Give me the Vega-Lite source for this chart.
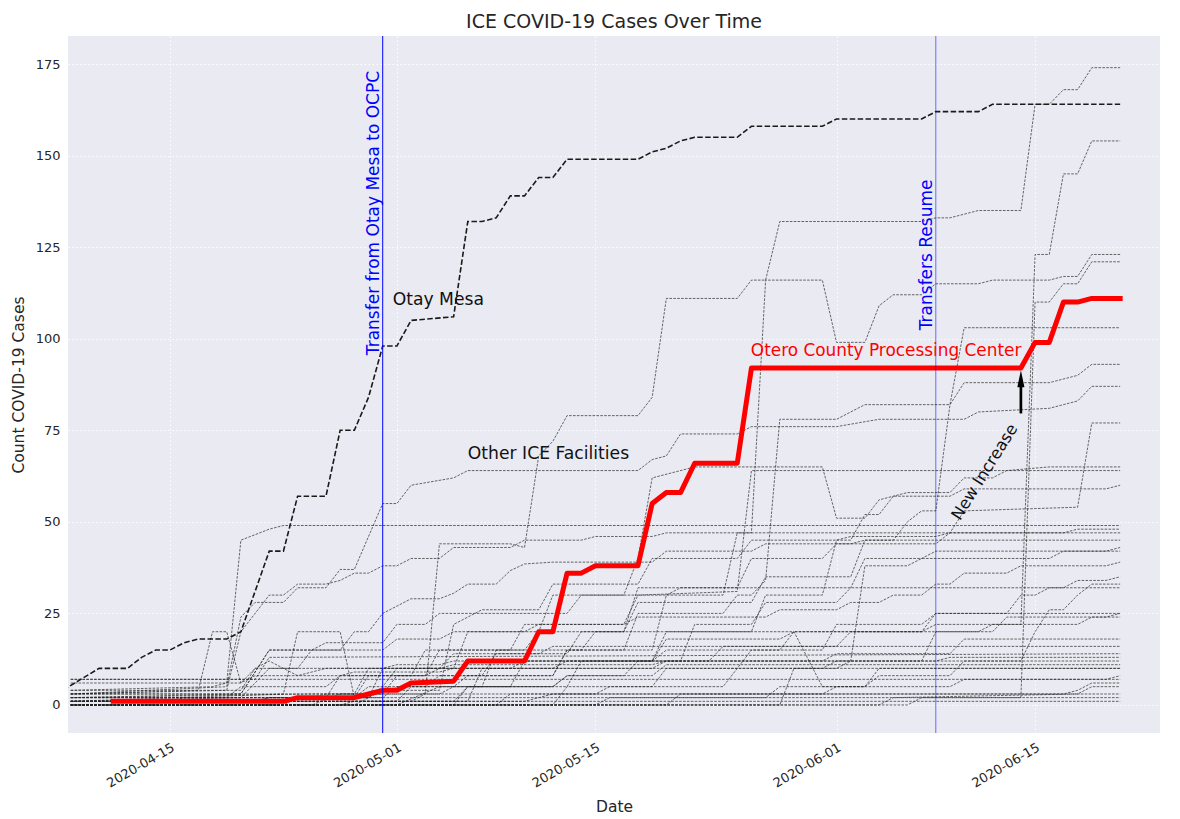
{
"$schema": "https://vega.github.io/schema/vega-lite/v6.json",
"width": 1092, "height": 697,
"autosize": {"type": "none"},
"padding": {"left": 68, "top": 36, "right": 20, "bottom": 86},
"background": "white",
"title": {"text": "ICE COVID-19 Cases Over Time", "fontSize": 19, "font": "DejaVu Sans", "fontWeight": "normal", "color": "#262626", "offset": 4, "anchor": "middle"},
"config": {"view": {"fill": "#EAEAF2", "stroke": null}},
"datasets": {
"other": [
{"f":"A","d":"2020-04-08","v":1},{"f":"A","d":"2020-05-02","v":1},{"f":"A","d":"2020-05-03","v":3},{"f":"A","d":"2020-05-04","v":44},{"f":"A","d":"2020-05-09","v":44},{"f":"A","d":"2020-05-10","v":43},{"f":"A","d":"2020-05-11","v":68},{"f":"A","d":"2020-05-12","v":72},{"f":"A","d":"2020-05-13","v":79},{"f":"A","d":"2020-05-18","v":79},{"f":"A","d":"2020-05-19","v":84},{"f":"A","d":"2020-05-20","v":111},{"f":"A","d":"2020-05-25","v":111},{"f":"A","d":"2020-05-26","v":116},{"f":"A","d":"2020-05-27","v":116},{"f":"A","d":"2020-05-28","v":132},{"f":"A","d":"2020-06-07","v":132},{"f":"A","d":"2020-06-08","v":133},{"f":"A","d":"2020-06-09","v":133},{"f":"A","d":"2020-06-11","v":135},{"f":"A","d":"2020-06-14","v":135},{"f":"A","d":"2020-06-15","v":164},{"f":"A","d":"2020-06-16","v":164},{"f":"A","d":"2020-06-17","v":168},{"f":"A","d":"2020-06-18","v":168},{"f":"A","d":"2020-06-19","v":174},{"f":"A","d":"2020-06-21","v":174},
{"f":"I","d":"2020-04-08","v":0},{"f":"I","d":"2020-04-23","v":0},{"f":"I","d":"2020-04-24","v":2},{"f":"I","d":"2020-04-30","v":2},{"f":"I","d":"2020-05-01","v":5},{"f":"I","d":"2020-05-05","v":5},{"f":"I","d":"2020-05-06","v":8},{"f":"I","d":"2020-05-12","v":8},{"f":"I","d":"2020-05-13","v":15},{"f":"I","d":"2020-05-19","v":15},{"f":"I","d":"2020-05-20","v":30},{"f":"I","d":"2020-05-24","v":30},{"f":"I","d":"2020-05-25","v":47},{"f":"I","d":"2020-05-26","v":47},{"f":"I","d":"2020-05-27","v":116},{"f":"I","d":"2020-05-31","v":116},{"f":"I","d":"2020-06-01","v":99},{"f":"I","d":"2020-06-03","v":99},{"f":"I","d":"2020-06-04","v":109},{"f":"I","d":"2020-06-05","v":112},{"f":"I","d":"2020-06-07","v":112},{"f":"I","d":"2020-06-08","v":115},{"f":"I","d":"2020-06-11","v":115},{"f":"I","d":"2020-06-12","v":116},{"f":"I","d":"2020-06-16","v":116},{"f":"I","d":"2020-06-17","v":117},{"f":"I","d":"2020-06-18","v":117},{"f":"I","d":"2020-06-19","v":123},{"f":"I","d":"2020-06-21","v":123},
{"f":"D","d":"2020-04-08","v":0},{"f":"D","d":"2020-04-25","v":0},{"f":"D","d":"2020-04-27","v":3},{"f":"D","d":"2020-05-04","v":3},{"f":"D","d":"2020-05-05","v":5},{"f":"D","d":"2020-05-09","v":5},{"f":"D","d":"2020-05-10","v":12},{"f":"D","d":"2020-05-19","v":12},{"f":"D","d":"2020-05-20","v":18},{"f":"D","d":"2020-05-28","v":18},{"f":"D","d":"2020-05-29","v":20},{"f":"D","d":"2020-06-07","v":20},{"f":"D","d":"2020-06-08","v":22},{"f":"D","d":"2020-06-14","v":22},{"f":"D","d":"2020-06-15","v":123},{"f":"D","d":"2020-06-16","v":123},{"f":"D","d":"2020-06-17","v":145},{"f":"D","d":"2020-06-18","v":145},{"f":"D","d":"2020-06-19","v":154},{"f":"D","d":"2020-06-21","v":154},
{"f":"E","d":"2020-04-08","v":0},{"f":"E","d":"2020-06-06","v":0},{"f":"E","d":"2020-06-07","v":2},{"f":"E","d":"2020-06-14","v":2},{"f":"E","d":"2020-06-15","v":110},{"f":"E","d":"2020-06-16","v":110},{"f":"E","d":"2020-06-17","v":115},{"f":"E","d":"2020-06-18","v":115},{"f":"E","d":"2020-06-19","v":121},{"f":"E","d":"2020-06-21","v":121},
{"f":"J","d":"2020-04-08","v":1},{"f":"J","d":"2020-04-23","v":1},{"f":"J","d":"2020-04-24","v":2},{"f":"J","d":"2020-04-28","v":2},{"f":"J","d":"2020-04-29","v":8},{"f":"J","d":"2020-05-03","v":8},{"f":"J","d":"2020-05-04","v":15},{"f":"J","d":"2020-05-10","v":15},{"f":"J","d":"2020-05-11","v":20},{"f":"J","d":"2020-05-17","v":20},{"f":"J","d":"2020-05-18","v":28},{"f":"J","d":"2020-05-26","v":28},{"f":"J","d":"2020-05-27","v":35},{"f":"J","d":"2020-06-02","v":35},{"f":"J","d":"2020-06-03","v":45},{"f":"J","d":"2020-06-05","v":45},{"f":"J","d":"2020-06-06","v":50},{"f":"J","d":"2020-06-07","v":53},{"f":"J","d":"2020-06-08","v":53},{"f":"J","d":"2020-06-09","v":82},{"f":"J","d":"2020-06-10","v":103},{"f":"J","d":"2020-06-21","v":103},
{"f":"F","d":"2020-04-12","v":1},{"f":"F","d":"2020-04-21","v":1},{"f":"F","d":"2020-04-22","v":2},{"f":"F","d":"2020-04-28","v":2},{"f":"F","d":"2020-04-29","v":5},{"f":"F","d":"2020-05-03","v":5},{"f":"F","d":"2020-05-04","v":8},{"f":"F","d":"2020-05-12","v":8},{"f":"F","d":"2020-05-13","v":15},{"f":"F","d":"2020-05-17","v":15},{"f":"F","d":"2020-05-18","v":25},{"f":"F","d":"2020-05-24","v":25},{"f":"F","d":"2020-05-25","v":30},{"f":"F","d":"2020-05-26","v":30},{"f":"F","d":"2020-05-27","v":34},{"f":"F","d":"2020-05-28","v":78},{"f":"F","d":"2020-06-01","v":78},{"f":"F","d":"2020-06-03","v":82},{"f":"F","d":"2020-06-09","v":82},{"f":"F","d":"2020-06-10","v":88},{"f":"F","d":"2020-06-16","v":88},{"f":"F","d":"2020-06-18","v":90},{"f":"F","d":"2020-06-19","v":93},{"f":"F","d":"2020-06-21","v":93},
{"f":"L","d":"2020-04-08","v":3},{"f":"L","d":"2020-04-19","v":5},{"f":"L","d":"2020-04-20","v":24},{"f":"L","d":"2020-04-21","v":28},{"f":"L","d":"2020-04-23","v":28},{"f":"L","d":"2020-04-24","v":32},{"f":"L","d":"2020-04-26","v":32},{"f":"L","d":"2020-04-27","v":37},{"f":"L","d":"2020-04-28","v":37},{"f":"L","d":"2020-04-30","v":55},{"f":"L","d":"2020-05-01","v":55},{"f":"L","d":"2020-05-02","v":60},{"f":"L","d":"2020-05-05","v":62},{"f":"L","d":"2020-05-06","v":64},{"f":"L","d":"2020-05-18","v":64},{"f":"L","d":"2020-05-19","v":67},{"f":"L","d":"2020-05-20","v":68},{"f":"L","d":"2020-05-21","v":74},{"f":"L","d":"2020-05-25","v":74},{"f":"L","d":"2020-05-26","v":76},{"f":"L","d":"2020-06-01","v":76},{"f":"L","d":"2020-06-04","v":78},{"f":"L","d":"2020-06-10","v":78},{"f":"L","d":"2020-06-11","v":80},{"f":"L","d":"2020-06-16","v":81},{"f":"L","d":"2020-06-18","v":83},{"f":"L","d":"2020-06-19","v":87},{"f":"L","d":"2020-06-21","v":87},
{"f":"G","d":"2020-04-08","v":2},{"f":"G","d":"2020-04-20","v":3},{"f":"G","d":"2020-04-22","v":15},{"f":"G","d":"2020-04-25","v":15},{"f":"G","d":"2020-04-26","v":17},{"f":"G","d":"2020-04-30","v":17},{"f":"G","d":"2020-05-01","v":22},{"f":"G","d":"2020-05-03","v":22},{"f":"G","d":"2020-05-04","v":25},{"f":"G","d":"2020-05-13","v":25},{"f":"G","d":"2020-05-14","v":30},{"f":"G","d":"2020-05-20","v":30},{"f":"G","d":"2020-05-21","v":32},{"f":"G","d":"2020-05-25","v":32},{"f":"G","d":"2020-05-26","v":40},{"f":"G","d":"2020-05-31","v":40},{"f":"G","d":"2020-06-01","v":44},{"f":"G","d":"2020-06-08","v":44},{"f":"G","d":"2020-06-09","v":47},{"f":"G","d":"2020-06-10","v":53},{"f":"G","d":"2020-06-18","v":54},{"f":"G","d":"2020-06-19","v":77},{"f":"G","d":"2020-06-21","v":77},
{"f":"H1","d":"2020-04-08","v":2},{"f":"H1","d":"2020-04-25","v":3},{"f":"H1","d":"2020-04-28","v":3},{"f":"H1","d":"2020-04-29","v":10},{"f":"H1","d":"2020-05-05","v":10},{"f":"H1","d":"2020-05-06","v":20},{"f":"H1","d":"2020-05-11","v":20},{"f":"H1","d":"2020-05-12","v":30},{"f":"H1","d":"2020-05-17","v":30},{"f":"H1","d":"2020-05-18","v":40},{"f":"H1","d":"2020-05-19","v":62},{"f":"H1","d":"2020-05-22","v":65},{"f":"H1","d":"2020-05-31","v":65},{"f":"H1","d":"2020-06-01","v":51},{"f":"H1","d":"2020-06-03","v":51},{"f":"H1","d":"2020-06-04","v":56},{"f":"H1","d":"2020-06-06","v":58},{"f":"H1","d":"2020-06-09","v":58},{"f":"H1","d":"2020-06-10","v":62},{"f":"H1","d":"2020-06-12","v":62},{"f":"H1","d":"2020-06-13","v":64},{"f":"H1","d":"2020-06-16","v":65},{"f":"H1","d":"2020-06-21","v":65},
{"f":"H2","d":"2020-04-08","v":1},{"f":"H2","d":"2020-04-21","v":1},{"f":"H2","d":"2020-04-22","v":2},{"f":"H2","d":"2020-04-26","v":2},{"f":"H2","d":"2020-04-27","v":8},{"f":"H2","d":"2020-05-02","v":8},{"f":"H2","d":"2020-05-03","v":15},{"f":"H2","d":"2020-05-09","v":15},{"f":"H2","d":"2020-05-10","v":22},{"f":"H2","d":"2020-05-17","v":22},{"f":"H2","d":"2020-05-18","v":30},{"f":"H2","d":"2020-05-25","v":31},{"f":"H2","d":"2020-05-26","v":64},{"f":"H2","d":"2020-06-21","v":64},
{"f":"H3","d":"2020-04-08","v":0},{"f":"H3","d":"2020-04-27","v":0},{"f":"H3","d":"2020-04-28","v":1},{"f":"H3","d":"2020-05-05","v":1},{"f":"H3","d":"2020-05-06","v":5},{"f":"H3","d":"2020-05-13","v":5},{"f":"H3","d":"2020-05-14","v":12},{"f":"H3","d":"2020-05-19","v":12},{"f":"H3","d":"2020-05-20","v":20},{"f":"H3","d":"2020-05-26","v":20},{"f":"H3","d":"2020-05-27","v":30},{"f":"H3","d":"2020-05-31","v":30},{"f":"H3","d":"2020-06-01","v":45},{"f":"H3","d":"2020-06-02","v":45},{"f":"H3","d":"2020-06-03","v":52},{"f":"H3","d":"2020-06-04","v":52},{"f":"H3","d":"2020-06-05","v":57},{"f":"H3","d":"2020-06-09","v":57},{"f":"H3","d":"2020-06-10","v":59},{"f":"H3","d":"2020-06-20","v":59},{"f":"H3","d":"2020-06-21","v":60},
{"f":"B","d":"2020-04-08","v":4},{"f":"B","d":"2020-04-18","v":5},{"f":"B","d":"2020-04-19","v":6},{"f":"B","d":"2020-04-20","v":45},{"f":"B","d":"2020-04-22","v":48},{"f":"B","d":"2020-04-23","v":49},{"f":"B","d":"2020-06-21","v":49},
{"f":"N1","d":"2020-04-08","v":3},{"f":"N1","d":"2020-04-19","v":4},{"f":"N1","d":"2020-04-20","v":20},{"f":"N1","d":"2020-04-22","v":30},{"f":"N1","d":"2020-04-23","v":30},{"f":"N1","d":"2020-04-24","v":33},{"f":"N1","d":"2020-04-26","v":33},{"f":"N1","d":"2020-04-27","v":34},{"f":"N1","d":"2020-04-28","v":36},{"f":"N1","d":"2020-04-29","v":36},{"f":"N1","d":"2020-04-30","v":38},{"f":"N1","d":"2020-05-01","v":38},{"f":"N1","d":"2020-05-02","v":40},{"f":"N1","d":"2020-05-04","v":40},{"f":"N1","d":"2020-05-05","v":43},{"f":"N1","d":"2020-05-09","v":43},{"f":"N1","d":"2020-05-10","v":45},{"f":"N1","d":"2020-05-14","v":45},{"f":"N1","d":"2020-05-15","v":46},{"f":"N1","d":"2020-05-19","v":46},{"f":"N1","d":"2020-05-20","v":47},{"f":"N1","d":"2020-06-21","v":47},
{"f":"K1","d":"2020-04-08","v":0},{"f":"K1","d":"2020-04-28","v":0},{"f":"K1","d":"2020-04-30","v":4},{"f":"K1","d":"2020-05-04","v":4},{"f":"K1","d":"2020-05-05","v":22},{"f":"K1","d":"2020-05-07","v":26},{"f":"K1","d":"2020-05-11","v":26},{"f":"K1","d":"2020-05-12","v":33},{"f":"K1","d":"2020-05-18","v":33},{"f":"K1","d":"2020-05-19","v":40},{"f":"K1","d":"2020-05-25","v":40},{"f":"K1","d":"2020-05-26","v":45},{"f":"K1","d":"2020-06-01","v":45},{"f":"K1","d":"2020-06-02","v":46},{"f":"K1","d":"2020-06-08","v":46},{"f":"K1","d":"2020-06-09","v":47},{"f":"K1","d":"2020-06-17","v":47},{"f":"K1","d":"2020-06-18","v":48},{"f":"K1","d":"2020-06-21","v":48},
{"f":"N2","d":"2020-04-08","v":1},{"f":"N2","d":"2020-04-20","v":2},{"f":"N2","d":"2020-04-22","v":10},{"f":"N2","d":"2020-04-24","v":10},{"f":"N2","d":"2020-04-25","v":15},{"f":"N2","d":"2020-04-27","v":15},{"f":"N2","d":"2020-04-28","v":20},{"f":"N2","d":"2020-04-29","v":20},{"f":"N2","d":"2020-04-30","v":25},{"f":"N2","d":"2020-05-01","v":27},{"f":"N2","d":"2020-05-02","v":29},{"f":"N2","d":"2020-05-04","v":29},{"f":"N2","d":"2020-05-05","v":30.5},{"f":"N2","d":"2020-05-06","v":33},{"f":"N2","d":"2020-05-08","v":33},{"f":"N2","d":"2020-05-09","v":36.7},{"f":"N2","d":"2020-05-10","v":38.5},{"f":"N2","d":"2020-05-12","v":39},{"f":"N2","d":"2020-05-19","v":39},{"f":"N2","d":"2020-05-20","v":42},{"f":"N2","d":"2020-05-26","v":42},{"f":"N2","d":"2020-05-27","v":44},{"f":"N2","d":"2020-06-02","v":44},{"f":"N2","d":"2020-06-03","v":45},{"f":"N2","d":"2020-06-21","v":45},
{"f":"K4","d":"2020-04-08","v":1},{"f":"K4","d":"2020-05-01","v":1},{"f":"K4","d":"2020-05-02","v":5},{"f":"K4","d":"2020-05-12","v":5},{"f":"K4","d":"2020-05-13","v":8},{"f":"K4","d":"2020-05-17","v":8},{"f":"K4","d":"2020-05-18","v":12},{"f":"K4","d":"2020-05-21","v":12},{"f":"K4","d":"2020-05-22","v":22},{"f":"K4","d":"2020-05-26","v":22},{"f":"K4","d":"2020-05-27","v":28},{"f":"K4","d":"2020-06-01","v":28},{"f":"K4","d":"2020-06-02","v":32},{"f":"K4","d":"2020-06-03","v":40},{"f":"K4","d":"2020-06-07","v":40},{"f":"K4","d":"2020-06-08","v":42},{"f":"K4","d":"2020-06-20","v":42},{"f":"K4","d":"2020-06-21","v":43},
{"f":"K5","d":"2020-04-08","v":0},{"f":"K5","d":"2020-05-08","v":0},{"f":"K5","d":"2020-05-09","v":3},{"f":"K5","d":"2020-05-15","v":3},{"f":"K5","d":"2020-05-16","v":5},{"f":"K5","d":"2020-05-24","v":5},{"f":"K5","d":"2020-05-25","v":10},{"f":"K5","d":"2020-05-31","v":10},{"f":"K5","d":"2020-06-01","v":12},{"f":"K5","d":"2020-06-02","v":12},{"f":"K5","d":"2020-06-03","v":38},{"f":"K5","d":"2020-06-06","v":38},{"f":"K5","d":"2020-06-07","v":40},{"f":"K5","d":"2020-06-16","v":40},{"f":"K5","d":"2020-06-17","v":42},{"f":"K5","d":"2020-06-21","v":42},
{"f":"K6","d":"2020-04-08","v":3},{"f":"K6","d":"2020-04-20","v":3},{"f":"K6","d":"2020-04-22","v":15},{"f":"K6","d":"2020-04-30","v":15},{"f":"K6","d":"2020-05-01","v":18},{"f":"K6","d":"2020-05-04","v":18},{"f":"K6","d":"2020-05-05","v":20},{"f":"K6","d":"2020-05-10","v":20},{"f":"K6","d":"2020-05-11","v":22},{"f":"K6","d":"2020-05-17","v":22},{"f":"K6","d":"2020-05-18","v":24},{"f":"K6","d":"2020-05-27","v":24},{"f":"K6","d":"2020-05-28","v":26},{"f":"K6","d":"2020-06-01","v":26},{"f":"K6","d":"2020-06-02","v":28},{"f":"K6","d":"2020-06-04","v":28},{"f":"K6","d":"2020-06-05","v":30},{"f":"K6","d":"2020-06-07","v":30},{"f":"K6","d":"2020-06-08","v":33},{"f":"K6","d":"2020-06-09","v":33},{"f":"K6","d":"2020-06-10","v":36},{"f":"K6","d":"2020-06-13","v":36},{"f":"K6","d":"2020-06-14","v":38},{"f":"K6","d":"2020-06-20","v":38},{"f":"K6","d":"2020-06-21","v":39},
{"f":"K7","d":"2020-04-08","v":1},{"f":"K7","d":"2020-05-06","v":1},{"f":"K7","d":"2020-05-07","v":10},{"f":"K7","d":"2020-05-09","v":10},{"f":"K7","d":"2020-05-10","v":12},{"f":"K7","d":"2020-05-19","v":12},{"f":"K7","d":"2020-05-20","v":15},{"f":"K7","d":"2020-05-28","v":15},{"f":"K7","d":"2020-05-29","v":20},{"f":"K7","d":"2020-06-07","v":20},{"f":"K7","d":"2020-06-08","v":25},{"f":"K7","d":"2020-06-13","v":25},{"f":"K7","d":"2020-06-14","v":30},{"f":"K7","d":"2020-06-15","v":30},{"f":"K7","d":"2020-06-16","v":32},{"f":"K7","d":"2020-06-17","v":32},{"f":"K7","d":"2020-06-18","v":34},{"f":"K7","d":"2020-06-20","v":34},{"f":"K7","d":"2020-06-21","v":35},
{"f":"K8","d":"2020-04-08","v":0},{"f":"K8","d":"2020-05-15","v":0},{"f":"K8","d":"2020-05-16","v":2},{"f":"K8","d":"2020-05-27","v":2},{"f":"K8","d":"2020-05-28","v":5},{"f":"K8","d":"2020-06-03","v":5},{"f":"K8","d":"2020-06-04","v":8},{"f":"K8","d":"2020-06-09","v":8},{"f":"K8","d":"2020-06-10","v":12},{"f":"K8","d":"2020-06-14","v":12},{"f":"K8","d":"2020-06-15","v":20},{"f":"K8","d":"2020-06-16","v":26},{"f":"K8","d":"2020-06-17","v":26},{"f":"K8","d":"2020-06-18","v":30},{"f":"K8","d":"2020-06-19","v":33},{"f":"K8","d":"2020-06-21","v":33},
{"f":"K9","d":"2020-04-08","v":2},{"f":"K9","d":"2020-04-25","v":2},{"f":"K9","d":"2020-04-26","v":3},{"f":"K9","d":"2020-04-30","v":3},{"f":"K9","d":"2020-05-01","v":8},{"f":"K9","d":"2020-05-07","v":8},{"f":"K9","d":"2020-05-08","v":14},{"f":"K9","d":"2020-05-13","v":14},{"f":"K9","d":"2020-05-14","v":20},{"f":"K9","d":"2020-05-17","v":20},{"f":"K9","d":"2020-05-18","v":32},{"f":"K9","d":"2020-06-21","v":32},
{"f":"K10","d":"2020-04-08","v":0},{"f":"K10","d":"2020-05-12","v":0},{"f":"K10","d":"2020-05-13","v":5},{"f":"K10","d":"2020-05-19","v":5},{"f":"K10","d":"2020-05-20","v":10},{"f":"K10","d":"2020-05-25","v":10},{"f":"K10","d":"2020-05-26","v":15},{"f":"K10","d":"2020-05-31","v":15},{"f":"K10","d":"2020-06-01","v":22},{"f":"K10","d":"2020-06-07","v":22},{"f":"K10","d":"2020-06-08","v":25},{"f":"K10","d":"2020-06-21","v":25},
{"f":"K11","d":"2020-04-08","v":1},{"f":"K11","d":"2020-04-15","v":1},{"f":"K11","d":"2020-04-16","v":2},{"f":"K11","d":"2020-04-19","v":2},{"f":"K11","d":"2020-04-20","v":5},{"f":"K11","d":"2020-04-26","v":5},{"f":"K11","d":"2020-04-27","v":8},{"f":"K11","d":"2020-05-03","v":8},{"f":"K11","d":"2020-05-04","v":10},{"f":"K11","d":"2020-05-12","v":10},{"f":"K11","d":"2020-05-13","v":12},{"f":"K11","d":"2020-05-23","v":12},{"f":"K11","d":"2020-05-24","v":16},{"f":"K11","d":"2020-06-01","v":16},{"f":"K11","d":"2020-06-02","v":20},{"f":"K11","d":"2020-06-11","v":20},{"f":"K11","d":"2020-06-12","v":22},{"f":"K11","d":"2020-06-18","v":22},{"f":"K11","d":"2020-06-19","v":24},{"f":"K11","d":"2020-06-21","v":24},
{"f":"C","d":"2020-04-08","v":3},{"f":"C","d":"2020-04-17","v":4},{"f":"C","d":"2020-04-18","v":20},{"f":"C","d":"2020-04-19","v":20},{"f":"C","d":"2020-04-20","v":6},{"f":"C","d":"2020-04-21","v":8},{"f":"C","d":"2020-04-27","v":8},{"f":"C","d":"2020-04-28","v":9},{"f":"C","d":"2020-05-04","v":9},{"f":"C","d":"2020-05-05","v":10},{"f":"C","d":"2020-05-19","v":10},{"f":"C","d":"2020-05-20","v":12},{"f":"C","d":"2020-05-31","v":12},{"f":"C","d":"2020-06-01","v":14},{"f":"C","d":"2020-06-09","v":14},{"f":"C","d":"2020-06-10","v":18},{"f":"C","d":"2020-06-21","v":18},
{"f":"M","d":"2020-04-08","v":1},{"f":"M","d":"2020-04-23","v":3},{"f":"M","d":"2020-04-24","v":20},{"f":"M","d":"2020-04-27","v":20},{"f":"M","d":"2020-04-28","v":2},{"f":"M","d":"2020-04-29","v":2},{"f":"M","d":"2020-04-30","v":5},{"f":"M","d":"2020-05-01","v":10},{"f":"M","d":"2020-05-04","v":10},{"f":"M","d":"2020-05-05","v":14},{"f":"M","d":"2020-05-11","v":14},{"f":"M","d":"2020-05-12","v":16},{"f":"M","d":"2020-06-21","v":16},
{"f":"K14","d":"2020-04-08","v":7},{"f":"K14","d":"2020-04-21","v":7},{"f":"K14","d":"2020-04-22","v":13},{"f":"K14","d":"2020-06-21","v":14},
{"f":"K15","d":"2020-04-08","v":6},{"f":"K15","d":"2020-04-20","v":6},{"f":"K15","d":"2020-04-21","v":10},{"f":"K15","d":"2020-04-30","v":10},{"f":"K15","d":"2020-05-01","v":11},{"f":"K15","d":"2020-05-04","v":11},{"f":"K15","d":"2020-05-05","v":12},{"f":"K15","d":"2020-06-08","v":12},{"f":"K15","d":"2020-06-09","v":13},{"f":"K15","d":"2020-06-21","v":13},
{"f":"K16","d":"2020-04-08","v":0},{"f":"K16","d":"2020-05-05","v":0},{"f":"K16","d":"2020-05-06","v":5},{"f":"K16","d":"2020-05-12","v":5},{"f":"K16","d":"2020-05-13","v":8},{"f":"K16","d":"2020-05-19","v":8},{"f":"K16","d":"2020-05-20","v":11},{"f":"K16","d":"2020-06-21","v":11},
{"f":"K17","d":"2020-04-08","v":2},{"f":"K17","d":"2020-04-29","v":2},{"f":"K17","d":"2020-04-30","v":10},{"f":"K17","d":"2020-06-21","v":10},
{"f":"K18","d":"2020-04-08","v":0},{"f":"K18","d":"2020-05-20","v":0},{"f":"K18","d":"2020-05-21","v":3},{"f":"K18","d":"2020-05-31","v":3},{"f":"K18","d":"2020-06-01","v":5},{"f":"K18","d":"2020-06-09","v":5},{"f":"K18","d":"2020-06-10","v":7},{"f":"K18","d":"2020-06-20","v":7},{"f":"K18","d":"2020-06-21","v":8},
{"f":"K19","d":"2020-04-08","v":1},{"f":"K19","d":"2020-05-10","v":1},{"f":"K19","d":"2020-05-12","v":3},{"f":"K19","d":"2020-06-17","v":3},{"f":"K19","d":"2020-06-18","v":4},{"f":"K19","d":"2020-06-19","v":6},{"f":"K19","d":"2020-06-21","v":6},
{"f":"K20","d":"2020-04-08","v":0},{"f":"K20","d":"2020-06-04","v":0},{"f":"K20","d":"2020-06-05","v":2},{"f":"K20","d":"2020-06-18","v":3},{"f":"K20","d":"2020-06-19","v":5},{"f":"K20","d":"2020-06-21","v":5},
{"f":"K21","d":"2020-04-08","v":3},{"f":"K21","d":"2020-06-21","v":3},
{"f":"K22","d":"2020-04-08","v":2},{"f":"K22","d":"2020-06-21","v":2},
{"f":"K23","d":"2020-04-08","v":1},{"f":"K23","d":"2020-06-21","v":1},
{"f":"K25","d":"2020-04-08","v":7},{"f":"K25","d":"2020-06-21","v":7},
{"f":"P1","d":"2020-04-08","v":4},{"f":"P1","d":"2020-04-20","v":4},{"f":"P1","d":"2020-04-21","v":10},{"f":"P1","d":"2020-04-22","v":12},{"f":"P1","d":"2020-04-24","v":8},{"f":"P1","d":"2020-04-26","v":10},{"f":"P1","d":"2020-05-04","v":10},{"f":"P1","d":"2020-05-05","v":11},{"f":"P1","d":"2020-05-19","v":11},{"f":"P1","d":"2020-05-20","v":12},{"f":"P1","d":"2020-06-21","v":12},
{"f":"Q1","d":"2020-04-08","v":0},{"f":"Q1","d":"2020-05-01","v":0},{"f":"Q1","d":"2020-05-04","v":5},{"f":"Q1","d":"2020-05-07","v":5},{"f":"Q1","d":"2020-05-08","v":15},{"f":"Q1","d":"2020-05-14","v":15},{"f":"Q1","d":"2020-05-15","v":20},{"f":"Q1","d":"2020-05-29","v":20},{"f":"Q1","d":"2020-05-31","v":5},{"f":"Q1","d":"2020-06-03","v":5},{"f":"Q1","d":"2020-06-04","v":10},{"f":"Q1","d":"2020-06-21","v":10},
{"f":"S1","d":"2020-04-08","v":0},{"f":"S1","d":"2020-05-28","v":0},{"f":"S1","d":"2020-05-29","v":10},{"f":"S1","d":"2020-06-01","v":10},{"f":"S1","d":"2020-06-02","v":12},{"f":"S1","d":"2020-06-07","v":12},{"f":"S1","d":"2020-06-08","v":20},{"f":"S1","d":"2020-06-12","v":20},{"f":"S1","d":"2020-06-13","v":24},{"f":"S1","d":"2020-06-20","v":24},{"f":"S1","d":"2020-06-21","v":25}
],
"otay": [
{"d":"2020-04-07","v":3},{"d":"2020-04-10","v":10},{"d":"2020-04-12","v":10},{"d":"2020-04-13","v":13},{"d":"2020-04-14","v":15},{"d":"2020-04-15","v":15},{"d":"2020-04-16","v":17},{"d":"2020-04-17","v":18},{"d":"2020-04-19","v":18},{"d":"2020-04-20","v":20},{"d":"2020-04-22","v":42},{"d":"2020-04-23","v":42},{"d":"2020-04-24","v":57},{"d":"2020-04-26","v":57},{"d":"2020-04-27","v":75},{"d":"2020-04-28","v":75},{"d":"2020-04-29","v":84},{"d":"2020-04-30","v":98},{"d":"2020-05-01","v":98},{"d":"2020-05-02","v":105},{"d":"2020-05-05","v":106},{"d":"2020-05-06","v":132},{"d":"2020-05-07","v":132},{"d":"2020-05-08","v":133},{"d":"2020-05-09","v":139},{"d":"2020-05-10","v":139},{"d":"2020-05-11","v":144},{"d":"2020-05-12","v":144},{"d":"2020-05-13","v":149},{"d":"2020-05-18","v":149},{"d":"2020-05-19","v":151},{"d":"2020-05-20","v":152},{"d":"2020-05-21","v":154},{"d":"2020-05-22","v":155},{"d":"2020-05-25","v":155},{"d":"2020-05-26","v":158},{"d":"2020-05-31","v":158},{"d":"2020-06-01","v":160},{"d":"2020-06-07","v":160},{"d":"2020-06-08","v":162},{"d":"2020-06-11","v":162},{"d":"2020-06-12","v":164},{"d":"2020-06-21","v":164}
],
"otero": [
{"d":"2020-04-11","v":1},{"d":"2020-04-23","v":1},{"d":"2020-04-24","v":2},{"d":"2020-04-28","v":2},{"d":"2020-04-29","v":3},{"d":"2020-04-30","v":4},{"d":"2020-05-01","v":4},{"d":"2020-05-02","v":6},{"d":"2020-05-05","v":6.5},{"d":"2020-05-06","v":12},{"d":"2020-05-10","v":12},{"d":"2020-05-11","v":20},{"d":"2020-05-12","v":20},{"d":"2020-05-13","v":36},{"d":"2020-05-14","v":36},{"d":"2020-05-15","v":38},{"d":"2020-05-18","v":38},{"d":"2020-05-19","v":55},{"d":"2020-05-20","v":58},{"d":"2020-05-21","v":58},{"d":"2020-05-22","v":66},{"d":"2020-05-25","v":66},{"d":"2020-05-26","v":92},{"d":"2020-06-14","v":92},{"d":"2020-06-15","v":99},{"d":"2020-06-16","v":99},{"d":"2020-06-17","v":110},{"d":"2020-06-18","v":110},{"d":"2020-06-19","v":111},{"d":"2020-06-21","v":111}
],
"events": [{"d":"2020-04-30","o":1},{"d":"2020-06-08","o":0.55}]
},
"layer": [
{"data": {"name": "other"},
 "mark": {"type": "line", "stroke": "#222222", "strokeWidth": 0.8, "strokeDash": [2.6, 1.3], "opacity": 0.85, "clip": true},
 "encoding": {
  "x": {"field": "d", "type": "temporal", "title": "Date",
        "scale": {"type": "utc", "domain": [{"year":2020,"month":4,"date":7,"hours":19,"minutes":25,"utc":true},{"year":2020,"month":6,"date":23,"hours":19,"minutes":25,"utc":true}]},
        "axis": {"values": [{"year":2020,"month":4,"date":15,"utc":true},{"year":2020,"month":5,"date":1,"utc":true},{"year":2020,"month":5,"date":15,"utc":true},{"year":2020,"month":6,"date":1,"utc":true},{"year":2020,"month":6,"date":15,"utc":true}],
                 "format": "%Y-%m-%d", "labelAngle": -30, "labelAlign": "right", "labelBaseline": "top", "labelPadding": 8, "labelOverlap": false, "labelFlush": false,
                 "grid": true, "gridColor": "#ffffff", "gridDash": [1.5, 2.5], "gridWidth": 1, "domain": false, "ticks": false, "tickSize": 0,
                 "labelFont": "DejaVu Sans", "labelFontSize": 13, "labelColor": "#262626",
                 "titleFont": "DejaVu Sans", "titleFontSize": 15.5, "titleFontWeight": "normal", "titleColor": "#262626", "titleY": 66, "titleBaseline": "top"}},
  "y": {"field": "v", "type": "quantitative", "title": "Count COVID-19 Cases",
        "scale": {"domain": [-7.65, 182.65], "nice": false, "zero": false},
        "axis": {"values": [0, 25, 50, 75, 100, 125, 150, 175], "labelPadding": 8, "grid": true, "gridColor": "#ffffff", "gridDash": [1.5, 2.5], "gridWidth": 1, "domain": false, "ticks": false, "tickSize": 0,
                 "labelFont": "DejaVu Sans", "labelFontSize": 13, "labelColor": "#262626",
                 "titleFont": "DejaVu Sans", "titleFontSize": 15.5, "titleFontWeight": "normal", "titleColor": "#262626", "titleX": -57, "titleBaseline": "top"}},
  "detail": {"field": "f", "type": "nominal"}
 }},
{"data": {"name": "otay"},
 "mark": {"type": "line", "stroke": "#1a1a1a", "strokeWidth": 1.6, "strokeDash": [5.5, 2.4], "clip": true},
 "encoding": {"x": {"field": "d", "type": "temporal"}, "y": {"field": "v", "type": "quantitative"}}},
{"data": {"name": "otero"},
 "mark": {"type": "line", "stroke": "#ff0000", "strokeWidth": 5, "strokeJoin": "round", "strokeCap": "square", "clip": true},
 "encoding": {"x": {"field": "d", "type": "temporal"}, "y": {"field": "v", "type": "quantitative"}}},
{"data": {"name": "events"},
 "mark": {"type": "rule", "color": "#0000ff", "strokeWidth": 1},
 "encoding": {"x": {"field": "d", "type": "temporal"}, "opacity": {"field": "o", "type": "quantitative", "scale": null}}},
{"data": {"values": [{"d":"2020-04-30T16:48:00Z","v":110.5,"t":"Otay Mesa"},{"d":"2020-05-06T00:00:00Z","v":68.4,"t":"Other ICE Facilities"}]},
 "mark": {"type": "text", "align": "left", "baseline": "middle", "font": "DejaVu Sans", "fontSize": 17.2, "color": "#111111"},
 "encoding": {"x": {"field": "d", "type": "temporal"}, "y": {"field": "v", "type": "quantitative"}, "text": {"field": "t"}}},
{"data": {"values": [{"d":"2020-05-25T23:00:00Z","v":96.6,"t":"Otero County Processing Center"}]},
 "mark": {"type": "text", "align": "left", "baseline": "middle", "font": "DejaVu Sans", "fontSize": 16.9, "color": "#ff0000"},
 "encoding": {"x": {"field": "d", "type": "temporal"}, "y": {"field": "v", "type": "quantitative"}, "text": {"field": "t"}}},
{"data": {"values": [{"d":"2020-04-30T00:00:00Z","v":95.5,"t":"Transfer from Otay Mesa to OCPC"},{"d":"2020-06-08T00:00:00Z","v":102.3,"t":"Transfers Resume"}]},
 "mark": {"type": "text", "align": "left", "baseline": "bottom", "angle": 270, "font": "DejaVu Sans", "fontSize": 17, "color": "#0000ff"},
 "encoding": {"x": {"field": "d", "type": "temporal"}, "y": {"field": "v", "type": "quantitative"}, "text": {"field": "t"}}},
{"data": {"values": [{"d":"2020-06-11T11:00:00Z","v":63.6,"t":"New Increase"}]},
 "mark": {"type": "text", "align": "center", "baseline": "middle", "angle": 302, "font": "DejaVu Sans", "fontSize": 16.3, "color": "#111111"},
 "encoding": {"x": {"field": "d", "type": "temporal"}, "y": {"field": "v", "type": "quantitative"}, "text": {"field": "t"}}},
{"data": {"values": [{"d":"2020-06-14T00:00:00Z","v":79.6,"v2":87}]},
 "mark": {"type": "rule", "color": "#000000", "strokeWidth": 2.7},
 "encoding": {"x": {"field": "d", "type": "temporal"}, "y": {"field": "v", "type": "quantitative"}, "y2": {"field": "v2"}}},
{"data": {"values": [{"d":"2020-06-14T00:00:00Z","v":89.1}]},
 "mark": {"type": "point", "shape": "M0,-1L0.42,1L-0.42,1Z", "size": 289, "filled": true, "color": "#000000", "opacity": 1},
 "encoding": {"x": {"field": "d", "type": "temporal"}, "y": {"field": "v", "type": "quantitative"}}}
]
}
